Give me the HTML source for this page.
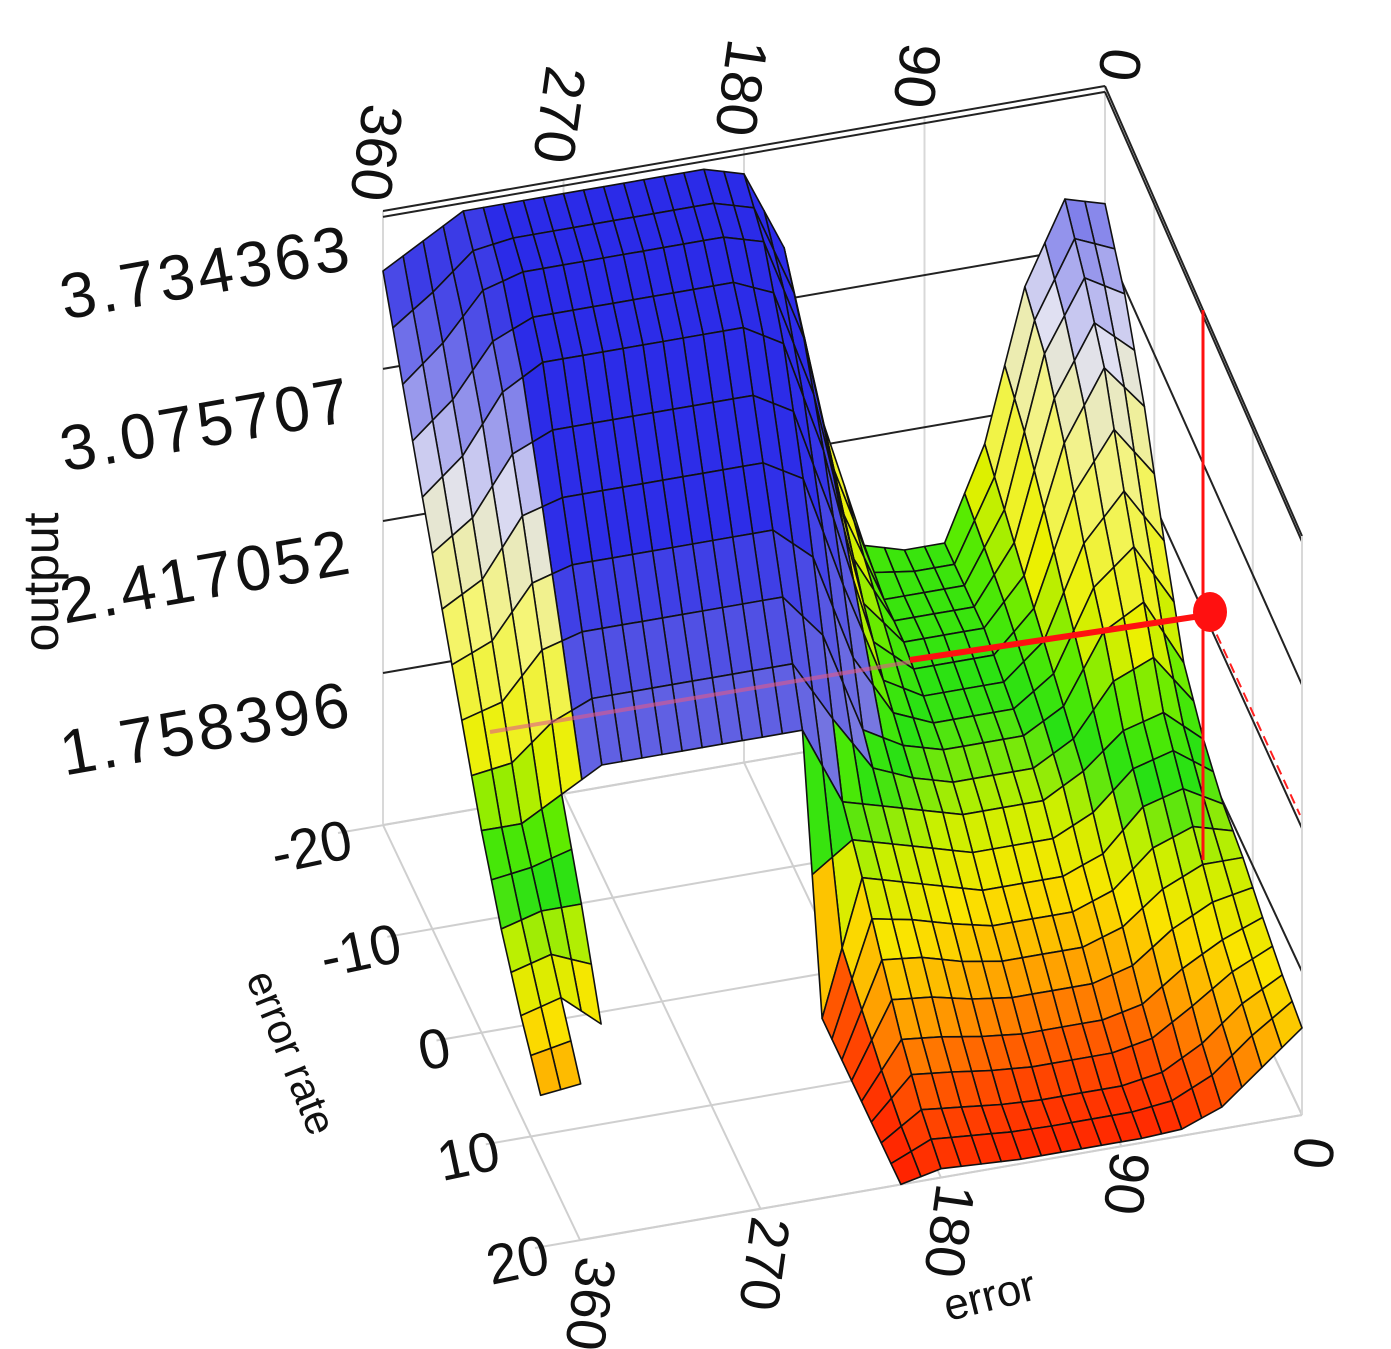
<!DOCTYPE html>
<html><head><meta charset="utf-8"><style>
html,body{margin:0;padding:0;background:#fff;}
svg{display:block;font-family:"Liberation Sans",sans-serif;}
</style></head><body>
<svg id="chart" width="1391" height="1349" viewBox="0 0 1391 1349" xmlns="http://www.w3.org/2000/svg">
<g id="walls"></g>
<g id="surface"></g>
<g id="overlay"></g>
<g id="labels"></g>
</svg>
<script>
// ---- data ----
const errorValues = [0,20,40,60,80,100,120,140,160,180,200,220,240,260,280,300,320,340,360];
const rateValues = [-20,-16,-12,-8,-4,0,4,8,12,16,20];
const N = null;
const outputRowM20 = [3.25,3.3,2.95,2.3,1.9,1.9,1.95,2.5,3.3,3.65,3.7,3.7,3.7,3.7,3.7,3.7,3.7,3.6,3.5];
const outputRowM16 = [3.05,3.15,2.85,2.2,1.9,1.9,1.9,2.3,3.1,3.55,3.6,3.6,3.6,3.6,3.6,3.6,3.55,3.35,3.2];
const outputRowM12 = [2.75,2.95,2.65,2.1,1.9,1.9,1.9,2.1,2.8,3.3,3.4,3.4,3.4,3.4,3.4,3.4,3.3,3.05,2.9];
const outputRowM8  = [2.35,2.6,2.4,2.0,1.85,1.85,1.85,1.95,2.4,2.9,3.0,3.0,3.0,3.0,3.0,3.0,2.95,2.7,2.6];
const outputRowM4  = [2.0,2.3,2.2,1.9,1.8,1.8,1.8,1.85,1.95,2.4,2.6,2.6,2.6,2.6,2.6,2.6,2.55,2.35,2.3];
const outputRow0   = [1.85,2.0,1.95,1.8,1.7,1.7,1.7,1.75,1.8,1.85,2.2,2.2,2.2,2.2,2.2,2.2,2.1,2.0,2.0];
const outputRowP4  = [1.75,1.85,1.8,1.62,1.55,1.55,1.55,1.6,1.65,1.7,1.1,N,N,N,N,N,1.8,1.8,1.75];
const outputRowP8  = [1.7,1.7,1.62,1.48,1.42,1.42,1.42,1.45,1.5,1.52,1.1,N,N,N,N,N,1.45,1.6,1.55];
const outputRowP12 = [1.62,1.55,1.45,1.32,1.28,1.28,1.28,1.3,1.33,1.35,1.1,N,N,N,N,N,N,1.4,1.38];
const outputRowP16 = [1.55,1.45,1.3,1.2,1.17,1.17,1.17,1.18,1.2,1.22,1.1,N,N,N,N,N,N,N,N];
const outputRowP20 = [1.5,1.35,1.2,1.13,1.12,1.12,1.12,1.12,1.13,1.14,1.1,N,N,N,N,N,N,N,N];
const outputGrid = [outputRowM20,outputRowM16,outputRowM12,outputRowM8,outputRowM4,outputRow0,outputRowP4,outputRowP8,outputRowP12,outputRowP16,outputRowP20];
const outputTicks = [1.758396,2.417052,3.075707,3.734363];
const outputTickLabels = ["1.758396","2.417052","3.075707","3.734363"];
const errorTicks = [0,90,180,270,360];
const rateTicks = [-20,-10,0,10,20];

// ---- projection ----
const ZMIN = 1.0997, ZTOP = 3.76, PXU = 230.8;
function P(e, r, z){
  const t = (r+20)/40, u = 1 - e/360;
  const bx = 383 + u*722 + t*197;
  const by = 825 - u*125 + t*415;
  const h = (z - ZMIN) * PXU * (1 - 0.057*t);
  return [bx, by - h];
}
const NS = "http://www.w3.org/2000/svg";
function mk(tag, attrs, parent){
  const el = document.createElementNS(NS, tag);
  for (const k in attrs) el.setAttribute(k, attrs[k]);
  parent.appendChild(el);
  return el;
}
function line(parent, a, b, stroke, w){
  return mk("line",{x1:a[0].toFixed(1),y1:a[1].toFixed(1),x2:b[0].toFixed(1),y2:b[1].toFixed(1),stroke:stroke,"stroke-width":w},parent);
}
const walls = document.getElementById("walls");
errorTicks.forEach(e=>{
  const l = line(walls, P(e,-20,ZMIN), P(e,20,ZMIN), "#cfcfcf", 2);
  
  
});
rateTicks.forEach(r=>{
  const a = P(360,r,ZMIN);
  const l = line(walls, [a[0]-45,a[1]+8], P(0,r,ZMIN), "#cfcfcf", 2);
  
  
});
errorTicks.forEach(e=>{
  const l = line(walls, P(e,-20,ZMIN), P(e,-20,ZTOP), "#d8d8d8", 2);
  
  
});
rateTicks.forEach(r=>{
  const l = line(walls, P(0,r,ZMIN), P(0,r,ZTOP), "#d8d8d8", 2);
  
  
});
outputTicks.concat([ZMIN]).forEach(z=>{
  const l1 = line(walls, P(360,-20,z), P(0,-20,z), z===ZMIN?"#cfcfcf":"#222", 2);
  
  
  const l2 = line(walls, P(0,-20,z), P(0,20,z), z===ZMIN?"#cfcfcf":"#222", 2);
  
  
});
{
  const t1 = line(walls, P(360,-20,ZTOP), P(0,-20,ZTOP), "#222", 2);
  
  
  const t2 = line(walls, P(0,-20,ZTOP), P(0,20,ZTOP), "#222", 2);
  
  
  const t3 = line(walls, P(0,20,ZMIN), P(0,20,ZTOP), "#d8d8d8", 2);
  
  
  const t4 = line(walls, P(360,20,ZMIN), P(0,20,ZMIN), "#cfcfcf", 2);
  
  
}

// ---- colour ----
const stops = [[1.1,[255,30,0]],[1.25,[255,90,0]],[1.4,[255,170,0]],[1.55,[250,230,0]],[1.7,[200,240,0]],[1.85,[40,225,20]],[2.0,[90,235,0]],[2.2,[235,240,0]],[2.6,[245,245,120]],[2.95,[225,225,242]],[3.2,[140,140,235]],[3.5,[60,60,230]],[5,[50,50,230]]];
const blueStops = [[2.0,[120,120,225]],[2.5,[80,80,228]],[2.9,[45,45,232]],[5,[40,40,232]]];
function interp(list, z){
  if (z<=list[0][0]) return list[0][1];
  for (let i=1;i<list.length;i++){
    if (z<=list[i][0]){
      const a=list[i-1], b=list[i], f=(z-a[0])/(b[0]-a[0]);
      return a[1].map((v,k)=>Math.round(v+(b[1][k]-v)*f));
    }
  }
  return list[list.length-1][1];
}
function color(z, e){
  const c = (e>=150 && e<=312 && z>=2.0) ? interp(blueStops,z) : interp(stops,z);
  return "rgb("+c.join(",")+")";
}

// ---- surface ----
const surf = document.getElementById("surface");
const SUB = 2;
for (let i=0;i<rateValues.length-1;i++){
  for (let j=0;j<errorValues.length-1;j++){
    const z00=outputGrid[i][j], z01=outputGrid[i][j+1], z10=outputGrid[i+1][j], z11=outputGrid[i+1][j+1];
    if (z00===null||z01===null||z10===null||z11===null) continue;
    if (Math.max(z00,z01,z10,z11) <= 1.1001) continue;
    const e0=errorValues[j], e1=errorValues[j+1], r0=rateValues[i], r1=rateValues[i+1];
    for (let a=0;a<SUB;a++){
      for (let b=0;b<SUB;b++){
        const pts=[]; let zs=0;
        [[a,b],[a,b+1],[a+1,b+1],[a+1,b]].forEach(([ia,ib])=>{
          const fr=ia/SUB, fe=ib/SUB;
          const z=(z00*(1-fe)+z01*fe)*(1-fr)+(z10*(1-fe)+z11*fe)*fr;
          zs+=z;
          const p=P(e0+(e1-e0)*fe, r0+(r1-r0)*fr, z);
          pts.push(p[0].toFixed(1)+","+p[1].toFixed(1));
        });
        const poly = mk("polygon",{points:pts.join(" "),fill:color(zs/4,e0+(e1-e0)*(b+0.5)/SUB),stroke:"#111","stroke-width":1.6,"stroke-linejoin":"round"},surf);
        
        
      }
    }
  }
}

// ---- cursor ----
const ov = document.getElementById("overlay");
{
  const l1 = mk("line",{x1:490,y1:732,x2:910,y2:662,stroke:"#e05a8a","stroke-width":4,opacity:0.6},ov);
  
  
  const l2 = mk("line",{x1:910,y1:660,x2:1207,y2:615,stroke:"#ff1010","stroke-width":6},ov);
  
  
  const l3 = mk("line",{x1:1203,y1:310,x2:1203,y2:860,stroke:"#ff1010","stroke-width":3},ov);
  
  
  const l4 = mk("line",{x1:1210,y1:620,x2:1300,y2:815,stroke:"#ff2020","stroke-width":2,"stroke-dasharray":"10 6"},ov);
  
  
  const dot = mk("ellipse",{cx:1210,cy:612,rx:17,ry:20,fill:"#ff1010"},ov);
  
  
}

// ---- labels ----
const lab = document.getElementById("labels");
function txt(s, x, y, size, rot, anchor, name){
  const t = mk("text",{x:x,y:y,"font-size":size,fill:"#111","text-anchor":anchor,transform:"rotate("+rot+" "+x+" "+y+")"},lab);
  t.textContent = s;
  
  
  return t;
}
outputTicks.forEach((z,k)=>{
  const p = P(360,-20,z);
  const t = txt(outputTickLabels[k], 352, p[1]+52, 64, -10, "end", "output-tick-label");
  t.setAttribute("textLength", "292");
});
const topAnchors = [[1098,78],[893,105],[715,133],[533,160],[350,198]];
errorTicks.forEach((e,k)=>{
  txt(String(e), topAnchors[k][0], topAnchors[k][1], 58, 98, "end", "top-error-tick-label");
});
const bottomAnchors = [[1297,1135],[1112,1150],[937,1182],[752,1215],[578,1255]];
errorTicks.forEach((e,k)=>{
  txt(String(e), bottomAnchors[k][0], bottomAnchors[k][1], 56, 98, "start", "error-tick-label");
});
rateTicks.forEach(r=>{
  const p = P(360,r,ZMIN);
  txt(r<0?"-"+Math.abs(r):String(r), p[0]-28, p[1]+32, 56, -12, "end", "error-rate-tick-label");
});
txt("output", 58, 582, 50, -90, "middle", "z-axis-title");
txt("error rate", 278, 1058, 42, 68, "middle", "y-axis-title");
txt("error", 993, 1310, 44, -14, "middle", "x-axis-title");
</script>
</body></html>
